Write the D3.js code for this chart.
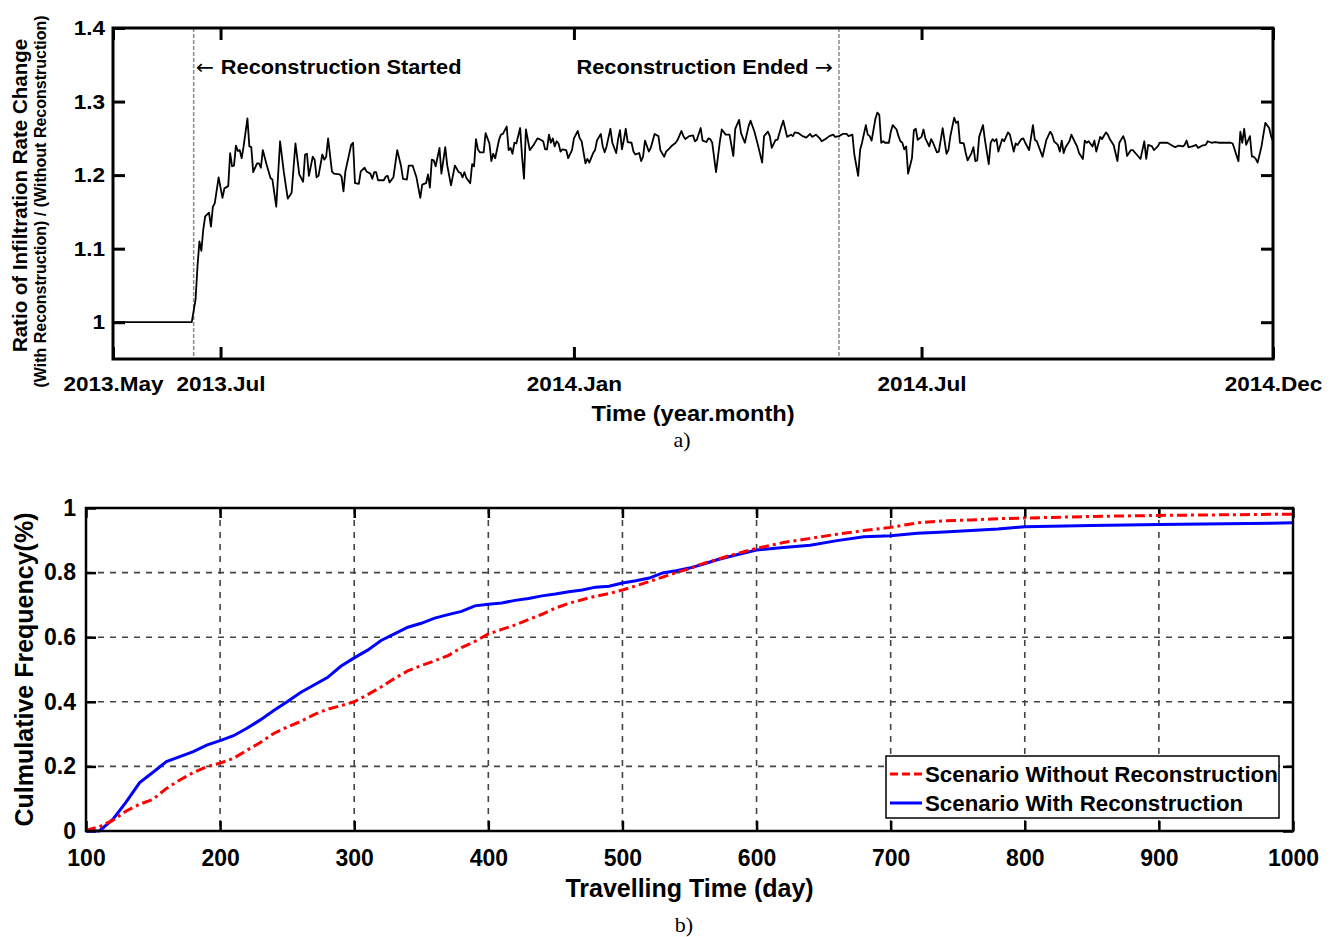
<!DOCTYPE html>
<html>
<head>
<meta charset="utf-8">
<script src="https://cdn.jsdelivr.net/npm/d3@7"></script>
<style>
  body { margin: 0; background: #fff; }
  text { font-family: "Liberation Sans", Arial, sans-serif; font-weight: bold; fill: #000; }
</style>
</head>
<body>
<svg id="canvas" width="1338" height="937"></svg>
<script>
// ---- panel a) : daily ratio, [day offset from series start, ratio]
let seriesStart = '2013-05-06'
let seriesEnd = '2014-12-31'
let ratioSeries = [
  [0,1.000],[41,1.000],[43,1.031],[44,1.076],[45,1.110],[46,1.097],[47,1.126],[48,1.144],[50,1.149],[51,1.130],
  [52,1.157],[53,1.162],[55,1.197],[57,1.169],[58,1.182],[60,1.185],[61,1.230],[62,1.212],[63,1.213],[64,1.240],
  [65,1.233],[66,1.234],[67,1.223],[68,1.239],[70,1.277],[71,1.239],[72,1.238],[73,1.204],[75,1.216],[76,1.216],
  [77,1.210],[78,1.234],[80,1.214],[82,1.196],[83,1.194],[85,1.157],[87,1.246],[89,1.203],[91,1.168],[93,1.176],
  [95,1.243],[97,1.201],[99,1.191],[100,1.228],[101,1.229],[102,1.199],[104,1.225],[105,1.221],[106,1.197],[107,1.199],
  [109,1.228],[110,1.221],[111,1.225],[112,1.250],[114,1.205],[115,1.202],[118,1.201],[119,1.198],[120,1.178],[121,1.205],
  [124,1.241],[125,1.244],[126,1.189],[128,1.188],[129,1.205],[131,1.210],[132,1.205],[134,1.202],[135,1.195],[136,1.204],
  [137,1.204],[138,1.193],[141,1.193],[142,1.198],[143,1.199],[144,1.190],[146,1.197],[148,1.234],[150,1.212],[151,1.195],
  [153,1.194],[154,1.213],[156,1.213],[158,1.197],[160,1.169],[161,1.187],[163,1.189],[164,1.201],[165,1.183],[166,1.221],
  [167,1.220],[168,1.212],[170,1.237],[171,1.202],[173,1.238],[174,1.214],[176,1.186],[178,1.213],[180,1.204],[181,1.203],
  [182,1.197],[183,1.204],[184,1.196],[186,1.189],[187,1.215],[188,1.212],[189,1.249],[190,1.235],[191,1.231],[193,1.231],
  [194,1.257],[196,1.243],[197,1.219],[198,1.229],[199,1.223],[201,1.248],[202,1.255],[203,1.256],[205,1.266],[206,1.234],
  [207,1.237],[208,1.229],[209,1.244],[210,1.243],[212,1.264],[213,1.225],[214,1.195],[215,1.262],[217,1.234],[219,1.241],
  [221,1.250],[222,1.249],[224,1.246],[225,1.235],[226,1.235],[227,1.255],[228,1.244],[229,1.250],[230,1.239],[231,1.246],
  [232,1.243],[233,1.232],[234,1.235],[236,1.234],[237,1.223],[239,1.234],[240,1.250],[242,1.260],[243,1.250],[244,1.246],
  [246,1.216],[247,1.222],[248,1.217],[250,1.230],[251,1.234],[252,1.247],[254,1.256],[255,1.239],[256,1.231],[257,1.239],
  [259,1.263],[260,1.244],[262,1.230],[263,1.249],[264,1.261],[265,1.235],[266,1.248],[267,1.263],[268,1.245],[270,1.244],
  [271,1.232],[272,1.228],[274,1.230],[275,1.219],[276,1.225],[277,1.247],[279,1.232],[280,1.237],[282,1.256],[284,1.253],
  [285,1.234],[287,1.225],[288,1.232],[290,1.237],[291,1.240],[293,1.244],[294,1.248],[296,1.260],[297,1.253],[298,1.249],
  [300,1.253],[302,1.254],[303,1.246],[304,1.248],[306,1.264],[307,1.247],[309,1.245],[310,1.250],[311,1.249],[312,1.244],
  [314,1.204],[316,1.246],[317,1.262],[319,1.255],[320,1.255],[321,1.255],[323,1.226],[324,1.263],[326,1.275],[327,1.257],
  [329,1.244],[331,1.267],[332,1.274],[334,1.259],[336,1.239],[338,1.217],[339,1.253],[341,1.259],[342,1.253],[343,1.237],
  [345,1.248],[346,1.248],[348,1.266],[349,1.274],[351,1.252],[353,1.255],[354,1.253],[355,1.258],[357,1.257],[359,1.253],
  [361,1.251],[363,1.256],[364,1.252],[366,1.255],[368,1.250],[369,1.246],[371,1.249],[373,1.253],[375,1.255],[376,1.252],
  [378,1.253],[380,1.256],[382,1.256],[383,1.253],[385,1.255],[386,1.228],[388,1.199],[389,1.234],[390,1.244],[392,1.268],
  [393,1.255],[394,1.253],[395,1.247],[397,1.277],[398,1.285],[399,1.282],[400,1.244],[401,1.246],[402,1.244],[404,1.244],
  [405,1.259],[406,1.268],[408,1.262],[409,1.253],[410,1.246],[411,1.244],[412,1.235],[413,1.239],[414,1.202],[416,1.223],
  [417,1.261],[418,1.263],[419,1.248],[421,1.252],[422,1.262],[423,1.250],[425,1.239],[426,1.249],[427,1.244],[429,1.231],
  [430,1.232],[432,1.264],[434,1.229],[435,1.234],[436,1.253],[438,1.278],[439,1.271],[440,1.273],[441,1.244],[443,1.243],
  [444,1.230],[445,1.220],[447,1.230],[448,1.238],[449,1.219],[450,1.220],[451,1.252],[453,1.268],[454,1.248],[456,1.215],
  [457,1.244],[458,1.249],[459,1.246],[460,1.249],[461,1.232],[463,1.249],[464,1.246],[466,1.258],[467,1.255],[469,1.232],
  [470,1.243],[471,1.241],[473,1.249],[474,1.250],[475,1.244],[477,1.234],[479,1.268],[480,1.248],[481,1.246],[482,1.239],
  [484,1.225],[486,1.248],[488,1.259],[489,1.255],[490,1.246],[492,1.241],[493,1.232],[494,1.247],[495,1.230],[496,1.238],
  [498,1.246],[499,1.255],[501,1.244],[502,1.239],[503,1.230],[505,1.222],[506,1.247],[507,1.244],[508,1.246],[510,1.239],
  [511,1.247],[512,1.232],[514,1.252],[515,1.249],[517,1.258],[518,1.255],[519,1.249],[521,1.241],[522,1.230],[523,1.219],
  [524,1.244],[526,1.253],[527,1.246],[528,1.226],[530,1.234],[531,1.234],[533,1.228],[534,1.225],[535,1.222],[536,1.234],
  [537,1.246],[538,1.222],[539,1.241],[541,1.239],[542,1.234],[544,1.239],[545,1.244],[547,1.244],[549,1.244],[551,1.241],
  [553,1.238],[555,1.240],[557,1.239],[558,1.241],[559,1.247],[560,1.238],[562,1.239],[564,1.241],[565,1.237],[567,1.240],
  [569,1.241],[570,1.246],[572,1.244],[574,1.245],[576,1.244],[577,1.244],[579,1.244],[582,1.244],[583,1.243],[586,1.219],
  [587,1.259],[588,1.244],[589,1.263],[590,1.241],[592,1.253],[593,1.225],[594,1.225],[595,1.222],[596,1.217],[598,1.239],
  [600,1.271],[602,1.264],[603,1.253],[604,1.246]
]
let ratioTicks = [1, 1.1, 1.2, 1.3, 1.4]
let monthTickDates = ['2013-05-06', '2013-07-01', '2014-01-01', '2014-07-01', '2014-12-31']
let monthTickLabels = ['2013.May', '2013.Jul', '2014.Jan', '2014.Jul', '2014.Dec']
let eventDates = ['2013-06-17', '2014-05-19']

// ---- panel b) : cumulative frequency
let travelDays = [100,110,120,130,140,150,160,170,180,190,200,210,220,230,240,250,260,270,280,290,
  300,310,320,330,340,350,360,370,380,390,400,410,420,430,440,450,460,470,480,490,
  500,510,520,530,540,550,560,570,580,590,600,620,640,660,680,700,720,740,760,780,800,850,900,950,1000]
let freqWith = [0,0,0.036,0.090,0.150,0.182,0.215,0.230,0.246,0.266,0.280,0.295,0.318,0.344,0.373,0.400,0.429,0.452,0.475,0.510,
  0.536,0.560,0.590,0.610,0.631,0.643,0.659,0.670,0.680,0.697,0.702,0.706,0.714,0.720,0.728,0.734,0.741,0.746,0.755,0.758,
  0.768,0.775,0.783,0.799,0.806,0.814,0.826,0.839,0.850,0.860,0.870,0.878,0.885,0.899,0.911,0.914,0.922,0.926,0.930,0.935,
  0.942,0.946,0.949,0.951,0.954]
let freqWithout = [0.002,0.013,0.033,0.062,0.083,0.098,0.132,0.158,0.181,0.199,0.210,0.225,0.250,0.274,0.302,0.322,0.339,0.360,0.377,0.388,
  0.400,0.422,0.446,0.472,0.496,0.512,0.527,0.543,0.568,0.587,0.610,0.624,0.638,0.655,0.671,0.690,0.705,0.716,0.727,0.735,
  0.746,0.759,0.772,0.786,0.800,0.812,0.828,0.840,0.853,0.864,0.875,0.893,0.906,0.919,0.930,0.940,0.954,0.960,0.963,0.967,
  0.969,0.974,0.977,0.979,0.981]
let travelTicks = [100,200,300,400,500,600,700,800,900,1000]
let freqTicks = [0, 0.2, 0.4, 0.6, 0.8, 1]
let legendNames = ['Scenario Without Reconstruction', 'Scenario With Reconstruction']

let canvas = d3.select('#canvas')
let parseDate = d3.timeParse('%Y-%m-%d')

// top panel text in the original is a bit stretched sideways
let sx = 1.1

// ================= panel a =================
let topBox = {left: 113, right: 1273, top: 28, bottom: 359}
let seriesStartDate = parseDate(seriesStart)
let xTop = d3.scaleTime()
  .domain([seriesStartDate, parseDate(seriesEnd)])
  .range([topBox.left, topBox.right])
let yTop = d3.scaleLinear()
  .domain([0.95, 1.4])
  .range([topBox.bottom, topBox.top])

let panelA = canvas.append('g')

// reconstruction markers
panelA.selectAll('line.event')
  .data(eventDates)
  .enter()
  .append('line')
  .attr('class', 'event')
  .attr('x1', (d) => xTop(parseDate(d)))
  .attr('x2', (d) => xTop(parseDate(d)))
  .attr('y1', topBox.top)
  .attr('y2', topBox.bottom)
  .attr('stroke', '#8a8a8a')
  .attr('stroke-width', 1.5)
  .attr('stroke-dasharray', '4,2')

let ratioLine = d3.line()
  .x((d) => xTop(d3.timeDay.offset(seriesStartDate, d[0])))
  .y((d) => yTop(d[1]))

panelA.append('path')
  .datum(ratioSeries)
  .attr('d', ratioLine)
  .attr('fill', 'none')
  .attr('stroke', '#000')
  .attr('stroke-width', 1.8)
  .attr('stroke-linejoin', 'round')

let fmtRatio = (d) => d === 1 ? '1' : d3.format('.1f')(d)

let leftAxis = panelA.append('g')
  .attr('transform', `translate(${topBox.left},0)`)
  .call(d3.axisLeft(yTop).tickValues(ratioTicks).tickFormat(fmtRatio).tickSizeInner(-12).tickSizeOuter(0))
leftAxis.selectAll('text')
  .attr('x', -8 / sx)
  .attr('transform', `scale(${sx},1)`)
  .style('font-size', '20.5px')

panelA.append('g')
  .attr('transform', `translate(${topBox.right},0)`)
  .call(d3.axisRight(yTop).tickValues(ratioTicks).tickFormat('').tickSizeInner(-12).tickSizeOuter(0))

let monthDates = monthTickDates.map(parseDate)
let bottomAxis = panelA.append('g')
  .attr('transform', `translate(0,${topBox.bottom})`)
  .call(d3.axisBottom(xTop).tickValues(monthDates)
    .tickFormat((d, i) => monthTickLabels[i]).tickSizeInner(-12).tickSizeOuter(0).tickPadding(17))
bottomAxis.selectAll('text')
  .attr('transform', `scale(${sx},1)`)
  .style('font-size', '20.5px')

panelA.append('g')
  .attr('transform', `translate(0,${topBox.top})`)
  .call(d3.axisTop(xTop).tickValues(monthDates).tickFormat('').tickSizeInner(-12).tickSizeOuter(0))

panelA.selectAll('.domain').remove()
panelA.selectAll('.tick line').attr('stroke', '#000').attr('stroke-width', 3)

panelA.append('rect')
  .attr('x', topBox.left)
  .attr('y', topBox.top)
  .attr('width', topBox.right - topBox.left)
  .attr('height', topBox.bottom - topBox.top)
  .attr('fill', 'none')
  .attr('stroke', '#000')
  .attr('stroke-width', 3)

let stretchedText = (x, y, anchor, size) => {
  return panelA.append('text')
    .attr('transform', `translate(${x},${y}) scale(${sx},1)`)
    .attr('text-anchor', anchor)
    .style('font-size', size + 'px')
}

let arrowFont = '"DejaVu Sans", sans-serif'

let startNote = stretchedText(xTop(parseDate(eventDates[0])) + 2, 74, 'start', 19.8)
startNote.append('tspan').style('font-weight', 'normal').style('font-family', arrowFont).text('\u2190 ')
startNote.append('tspan').text('Reconstruction Started')

let endNote = stretchedText(xTop(parseDate(eventDates[1])) - 6, 74, 'end', 19.8)
endNote.append('tspan').text('Reconstruction Ended ')
endNote.append('tspan').style('font-weight', 'normal').style('font-family', arrowFont).text('\u2192')

stretchedText((topBox.left + topBox.right) / 2, 421, 'middle', 21.5).text('Time (year.month)')

panelA.append('text')
  .attr('transform', `translate(27,${(topBox.top + topBox.bottom) / 2 + 2}) rotate(-90)`)
  .attr('text-anchor', 'middle')
  .style('font-size', '20.5px')
  .text('Ratio of Infiltration Rate Change')

panelA.append('text')
  .attr('transform', `translate(46,${(topBox.top + topBox.bottom) / 2 + 8}) rotate(-90)`)
  .attr('text-anchor', 'middle')
  .style('font-size', '16px')
  .text('(With Reconstruction) / (Without Reconstruction)')

panelA.append('text')
  .attr('x', 682)
  .attr('y', 447)
  .attr('text-anchor', 'middle')
  .style('font-family', '"Liberation Serif", "Times New Roman", serif')
  .style('font-weight', 'normal')
  .style('font-size', '22px')
  .text('a)')

// ================= panel b =================
let botBox = {left: 86, right: 1293, top: 508, bottom: 831}
let xBot = d3.scaleLinear().domain([100, 1000]).range([botBox.left, botBox.right])
let yBot = d3.scaleLinear().domain([0, 1]).range([botBox.bottom, botBox.top])

let panelB = canvas.append('g')

// grid
panelB.selectAll('line.vgrid')
  .data(travelTicks.slice(1, -1))
  .enter()
  .append('line')
  .attr('class', 'vgrid')
  .attr('x1', (d) => xBot(d))
  .attr('x2', (d) => xBot(d))
  .attr('y1', botBox.top)
  .attr('y2', botBox.bottom)
panelB.selectAll('line.hgrid')
  .data(freqTicks.slice(1, -1))
  .enter()
  .append('line')
  .attr('class', 'hgrid')
  .attr('x1', botBox.left)
  .attr('x2', botBox.right)
  .attr('y1', (d) => yBot(d))
  .attr('y2', (d) => yBot(d))
panelB.selectAll('line.vgrid, line.hgrid')
  .attr('stroke', '#444')
  .attr('stroke-width', 1.6)
  .attr('stroke-dasharray', '6,6')

let fmtFreq = (d) => (d === 0 || d === 1) ? String(d) : d3.format('.1f')(d)

let bAxisLeft = panelB.append('g')
  .attr('transform', `translate(${botBox.left},0)`)
  .call(d3.axisLeft(yBot).tickValues(freqTicks).tickFormat(fmtFreq).tickSizeInner(-10).tickSizeOuter(0).tickPadding(10))
panelB.append('g')
  .attr('transform', `translate(${botBox.right},0)`)
  .call(d3.axisRight(yBot).tickValues(freqTicks).tickFormat('').tickSizeInner(-10).tickSizeOuter(0))
let bAxisBottom = panelB.append('g')
  .attr('transform', `translate(0,${botBox.bottom})`)
  .call(d3.axisBottom(xBot).tickValues(travelTicks).tickFormat(d3.format('d'))
    .tickSizeInner(-10).tickSizeOuter(0).tickPadding(19))
panelB.append('g')
  .attr('transform', `translate(0,${botBox.top})`)
  .call(d3.axisTop(xBot).tickValues(travelTicks).tickFormat('').tickSizeInner(-10).tickSizeOuter(0))

panelB.selectAll('.domain').remove()
panelB.selectAll('.tick line').attr('stroke', '#000').attr('stroke-width', 2.5)
bAxisLeft.selectAll('text').style('font-size', '23px')
bAxisBottom.selectAll('text').style('font-size', '23px')

let freqLine = (values) => d3.line()
  .x((d, i) => xBot(travelDays[i]))
  .y((d) => yBot(d))(values)

panelB.append('path')
  .attr('d', freqLine(freqWith))
  .attr('fill', 'none')
  .attr('stroke', '#0000ff')
  .attr('stroke-width', 3)

panelB.append('path')
  .attr('d', freqLine(freqWithout))
  .attr('fill', 'none')
  .attr('stroke', '#ff0000')
  .attr('stroke-width', 3)
  .attr('stroke-dasharray', '10,4,3,4')

panelB.append('rect')
  .attr('x', botBox.left)
  .attr('y', botBox.top)
  .attr('width', botBox.right - botBox.left)
  .attr('height', botBox.bottom - botBox.top)
  .attr('fill', 'none')
  .attr('stroke', '#000')
  .attr('stroke-width', 2.5)

// legend
let legend = panelB.append('g').attr('transform', 'translate(886,756)')
legend.append('rect')
  .attr('width', 393)
  .attr('height', 62)
  .attr('fill', '#fff')
  .attr('stroke', '#000')
  .attr('stroke-width', 1.5)
let legendColors = ['#ff0000', '#0000ff']
let legendDash = ['8,4', null]
legendNames.forEach((name, i) => {
  legend.append('line')
    .attr('x1', 4).attr('x2', 36)
    .attr('y1', 18 + i * 29).attr('y2', 18 + i * 29)
    .attr('stroke', legendColors[i])
    .attr('stroke-width', 3)
    .attr('stroke-dasharray', legendDash[i])
  legend.append('text')
    .attr('x', 39)
    .attr('y', 26 + i * 29)
    .style('font-size', '22.3px')
    .text(name)
})

panelB.append('text')
  .attr('x', (botBox.left + botBox.right) / 2)
  .attr('y', 897)
  .attr('text-anchor', 'middle')
  .style('font-size', '25px')
  .text('Travelling Time (day)')

panelB.append('text')
  .attr('transform', `translate(33,${(botBox.top + botBox.bottom) / 2}) rotate(-90)`)
  .attr('text-anchor', 'middle')
  .style('font-size', '25px')
  .text('Culmulative Frequency(%)')

panelB.append('text')
  .attr('x', 684)
  .attr('y', 932)
  .attr('text-anchor', 'middle')
  .style('font-family', '"Liberation Serif", "Times New Roman", serif')
  .style('font-weight', 'normal')
  .style('font-size', '22px')
  .text('b)')
</script>
</body>
</html>
